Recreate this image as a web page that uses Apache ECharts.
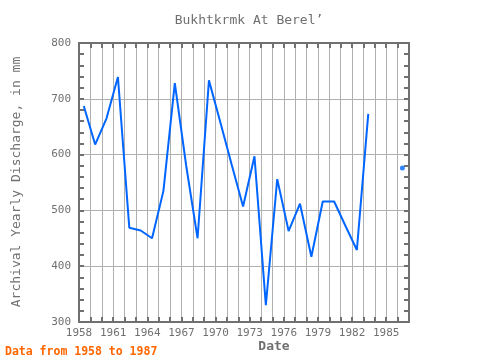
<!DOCTYPE html>
<html><head><meta charset="utf-8">
<script src="https://cdn.jsdelivr.net/npm/echarts@6/dist/echarts.min.js"></script>
<style>html,body{margin:0;padding:0;background:#fff}#c{width:480px;height:360px}</style>
</head><body><div id="c"></div>
<script>
const years = [1958,1959,1960,1961,1962,1963,1964,1965,1966,1967,1968,1969,1970,1971,1972,1973,1974,1975,1976,1977,1978,1979,1980,1981,1982,1983,1984,1985,1986];
const discharge = [687,618,665,739,469,464,450,535,728,580,450,733,658,582,507,597,330,556,463,512,417,516,516,472,429,673,null,null,576];
const xTicks = [1958,1961,1964,1967,1970,1973,1976,1979,1982,1985];
const yTicks = [300,400,500,600,700,800];
const titleText = "Bukhtkrmk At Berel\u2019";
const yName = "Archival Yearly Discharge, in mm";
const xName = "Date";
const note = "Data from 1958 to 1987";

const offset = 0.42;
const lineData = years.map((y,i)=>[y+offset, discharge[i]]);
const lonely = lineData.filter((p,i)=>p[1]!=null && (i===0||discharge[i-1]==null) && (i===discharge.length-1||discharge[i+1]==null));

const font = "DejaVu Sans Mono";
const gray = "#707070";
const chart = echarts.init(document.getElementById('c'));
const axX = (pos, show) => ({
  type:'value', position:pos, min:1958, max:1987, interval:1,
  axisLine:{show:true, lineStyle:{color:gray, width:2}},
  axisTick:{show:true, inside:true, length:5, lineStyle:{color:gray, width:2}},
  splitLine:{show:show, lineStyle:{color:'#b0b0b0', width:1}},
  axisLabel:{show:show, color:gray, fontFamily:font, fontSize:11, margin:6,
    formatter:v=> xTicks.indexOf(Math.round(v))>=0 && Math.abs(v-Math.round(v))<1e-6 ? String(Math.round(v)) : ''}
});
const axY = (pos, show) => ({
  type:'value', position:pos, min:300, max:800, interval:20,
  axisLine:{show:true, lineStyle:{color:gray, width:2}},
  axisTick:{show:true, inside:true, length:5, lineStyle:{color:gray, width:2}},
  splitLine:{show:false},
  axisLabel:{show:show, color:gray, fontFamily:font, fontSize:11, margin:8,
    formatter:v=> yTicks.indexOf(Math.round(v))>=0 ? String(Math.round(v)) : ''}
});
const yGrid = {type:'value', position:'left', offset:0, min:300, max:800, interval:100,
  axisLine:{show:false}, axisTick:{show:false}, axisLabel:{show:false},
  splitLine:{show:true, lineStyle:{color:'#b0b0b0', width:1}}};

chart.setOption({
  animation:false,
  backgroundColor:'#fff',
  grid:{left:79, right:71, top:43, bottom:38, show:false},
  title:{text:titleText, left:244, top:9, textAlign:'center',
    textStyle:{fontFamily:font, fontSize:13, fontWeight:'normal', color:gray}},
  xAxis:[axX('bottom', true), axX('top', false)],
  yAxis:[yGrid, axY('left', true), axY('right', false)],
  graphic:[
    {type:'text', x:17, y:182, rotation:Math.PI/2, style:{text:yName, fontFamily:font, fontSize:13, fill:gray, align:'center', verticalAlign:'middle'}},
    {type:'text', x:274, y:347, style:{text:xName, fontFamily:font, fontSize:13, fontWeight:'bold', fill:gray, align:'center', verticalAlign:'middle'}},
    {type:'text', x:5, y:352, style:{text:note, fontFamily:font, fontSize:11.5, fontWeight:'bold', fill:'#ff6600', align:'left', verticalAlign:'middle'}}
  ],
  series:[
    {type:'line', xAxisIndex:0, yAxisIndex:1, data:lineData, showSymbol:false, connectNulls:false, z:5,
     lineStyle:{color:'#0066ff', width:2}, itemStyle:{color:'#0066ff'}},
    {type:'scatter', xAxisIndex:0, yAxisIndex:1, data:lonely, symbolSize:5, z:5, itemStyle:{color:'#0066ff'}}
  ]
});
</script></body></html>
